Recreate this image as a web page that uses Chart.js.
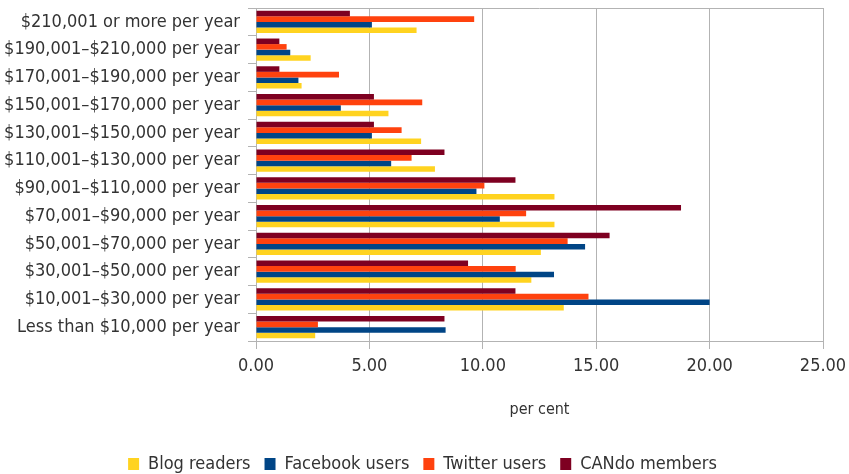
<!DOCTYPE html>
<html>
<head>
<meta charset="utf-8">
<script src="https://cdn.jsdelivr.net/npm/chart.js@4/dist/chart.umd.min.js"></script>
<style>
  html, body { margin: 0; padding: 0; background: #fff; }
  #wrap { width: 849px; height: 474px; }
</style>
</head>
<body>
<div id="wrap"><canvas id="incomeChart"></canvas></div>
<script>
// income brackets, top to bottom as shown
const categories = [
   '$210,001 or more per year',
   '$190,001\u2013$210,000 per year',
   '$170,001\u2013$190,000 per year',
   '$150,001\u2013$170,000 per year',
   '$130,001\u2013$150,000 per year',
   '$110,001\u2013$130,000 per year',
   '$90,001\u2013$110,000 per year',
   '$70,001\u2013$90,000 per year',
   '$50,001\u2013$70,000 per year',
   '$30,001\u2013$50,000 per year',
   '$10,001\u2013$30,000 per year',
   'Less than $10,000 per year'
];

// per cent values, same order as categories
const blogReaders   = [7.08, 2.41, 2.01, 5.84, 7.28, 7.89, 13.16, 13.16, 12.56, 12.14, 13.57, 2.61];
const facebookUsers = [5.11, 1.51, 1.87, 3.74, 5.11, 5.96, 9.72, 10.75, 14.51, 13.14, 20.00, 8.36];
const twitterUsers  = [9.62, 1.35, 3.66, 7.33, 6.42, 6.86, 10.07, 11.91, 13.74, 11.45, 14.66, 2.73];
const candoMembers  = [4.14, 1.03, 1.03, 5.20, 5.20, 8.31, 11.44, 18.74, 15.59, 9.35, 11.44, 8.31];

const xTicks = [0, 5, 10, 15, 20, 25];

const GRID = '#b3b3b3';
const TEXT = '#333333';
const FONT = "'DejaVu Sans Condensed', 'DejaVu Sans', sans-serif";

// top border of the plot frame, and nudge legend to the right a bit
const frameTop = {
   id: 'frameTop',
   afterLayout(chart) {
       chart.legend.left += 11;
       chart.legend.right += 11;
   },
   afterDraw(chart) {
       const a = chart.chartArea, ctx = chart.ctx;
       ctx.save();
       ctx.strokeStyle = GRID;
       ctx.lineWidth = 1;
       ctx.beginPath();
       ctx.moveTo(a.left, a.top + 0.5);
       ctx.lineTo(a.right, a.top + 0.5);
       ctx.stroke();
       ctx.restore();
   }
};

window.onload = () => {
   const ctx = document.getElementById('incomeChart').getContext('2d');
   new Chart(ctx, {
       type: 'bar',
       data: {
           labels: categories,
           // drawn top to bottom inside each group
           datasets: [
               { label: 'CANdo members', data: candoMembers, backgroundColor: '#7e0021' },
               { label: 'Twitter users', data: twitterUsers, backgroundColor: '#ff420e' },
               { label: 'Facebook users', data: facebookUsers, backgroundColor: '#004586' },
               { label: 'Blog readers', data: blogReaders, backgroundColor: '#ffd320' }
           ]
       },
       options: {
           indexAxis: 'y',
           responsive: true,
           maintainAspectRatio: false,
           animation: false,
           categoryPercentage: 0.8,
           barPercentage: 1.0,
           layout: { padding: { top: 8, right: 26, bottom: -9, left: 0 } },
           plugins: {
               tooltip: { enabled: false },
               legend: {
                   position: 'bottom',
                   reverse: true,
                   labels: {
                       boxWidth: 11,
                       boxHeight: 12,
                       padding: 14,
                       color: TEXT,
                       font: { family: FONT, size: 18 }
                   }
               }
           },
           scales: {
               x: {
                   min: 0,
                   max: 25,
                   afterBuildTicks: (scale) => { scale.ticks = xTicks.map(v => ({ value: v })); },
                   afterFit: (scale) => {
                       scale.height = 100;
                       scale.paddingLeft = 0;
                       scale.paddingRight = 0;
                   },
                   grid: { color: GRID, lineWidth: 1, tickLength: 8 },
                   border: { color: GRID },
                   ticks: {
                       color: TEXT,
                       padding: 7,
                       font: { family: FONT, size: 18 },
                       callback: (v) => Number(v).toFixed(2)
                   },
                   title: {
                       display: true,
                       text: 'per cent',
                       color: TEXT,
                       font: { family: FONT, size: 16 },
                       padding: { top: 10, bottom: 22 }
                   }
               },
               y: {
                   afterFit: (scale) => {
                       scale.width = 256;
                       scale.paddingTop = 0;
                       scale.paddingBottom = 0;
                   },
                   grid: { offset: true, drawOnChartArea: false, color: GRID, tickLength: 8 },
                   border: { color: GRID },
                   ticks: {
                       color: TEXT,
                       padding: 8,
                       font: { family: FONT, size: 18 }
                   }
               }
           }
       },
       plugins: [frameTop]
   });
};
</script>
</body>
</html>
